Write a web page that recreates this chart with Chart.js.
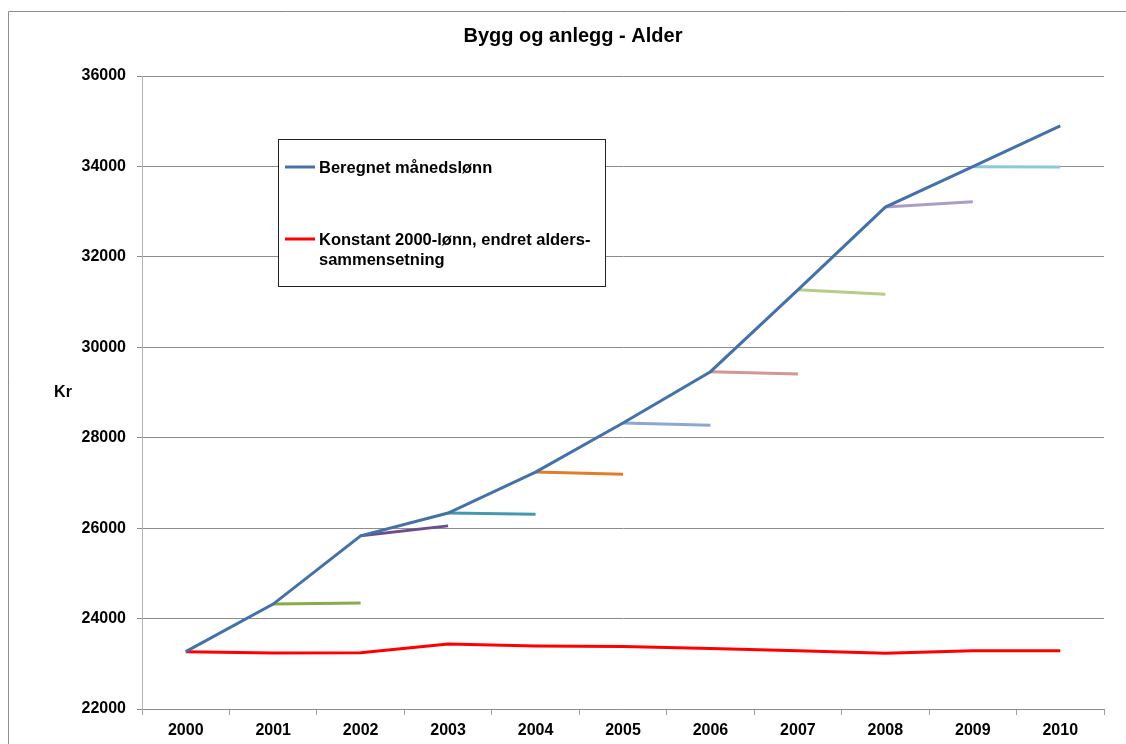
<!DOCTYPE html>
<html>
<head>
<meta charset="utf-8">
<script src="https://cdn.jsdelivr.net/npm/chart.js@4"></script>
<style>
  body { margin: 0; background: #fff; }
</style>
</head>
<body>
<canvas id="alder" width="1126" height="744"></canvas>
<script>
// Bygg og anlegg - alder, lønn 2000-2010

const ctx = document.getElementById('alder');

const years = ['2000', '2001', '2002', '2003', '2004', '2005', '2006', '2007', '2008', '2009', '2010'];

const beregnet = [23270, 24320, 25830, 26335, 27240, 28325, 29460, 31270, 33100, 33995, 34895];

const konstant = [23265, 23240, 23245, 23440, 23395, 23385, 23340, 23290, 23235, 23290, 23290];

// value one year later with that year's age composition (segment from year i+1 to i+2)
const aaretEtter = [24345, 26050, 26305, 27190, 28275, 29410, 31175, 33220, 33985];

const segColors = [
    '#8aab48',
    '#6c4d8e',
    '#4499b1',
    '#e07d2c',
    '#8ea7d2',
    '#d49595',
    '#b5cd87',
    '#ad9cc6',
    '#8ec6dc'
];

const legendLines = [
    ['Beregnet månedslønn'],
    ['Konstant 2000-lønn, endret alders-', 'sammensetning']
];

const yTicks = [22000, 24000, 26000, 28000, 30000, 32000, 34000, 36000];

const FONT = '"Liberation Sans", Arial, sans-serif';

var datasets = [
    {
        label: legendLines[0].join(' '),
        data: beregnet,
        borderColor: '#4571a9',
        borderWidth: 3,
        pointRadius: 0,
        tension: 0
    },
    {
        label: legendLines[1].join(''),
        data: konstant,
        borderColor: '#ff0000',
        borderWidth: 3,
        pointRadius: 0,
        tension: 0
    }
];

for (var i = 0; i < aaretEtter.length; i++) {
    var seg = years.map(function () { return null; });
    seg[i + 1] = beregnet[i + 1];
    seg[i + 2] = aaretEtter[i];
    datasets.push({
        label: years[i + 1],
        data: seg,
        borderColor: segColors[i],
        borderWidth: 3,
        pointRadius: 0,
        spanGaps: false
    });
}

const extras = {
    id: 'extras',
    beforeDraw(chart) {
        const c = chart.ctx;
        c.save();
        c.strokeStyle = '#8c8c8c';
        c.lineWidth = 1;
        c.beginPath();
        c.moveTo(8.5, 744);
        c.lineTo(8.5, 11.5);
        c.lineTo(1126, 11.5);
        c.stroke();
        c.restore();
    },
    afterDraw(chart) {
        const c = chart.ctx;
        c.save();
        c.fillStyle = '#000';
        c.textBaseline = 'middle';
        c.textAlign = 'center';
        c.font = 'bold 20px ' + FONT;
        c.fillText('Bygg og anlegg - Alder', 573, 36);

        c.font = 'bold 16px ' + FONT;
        c.fillText('Kr', 63, 393);

        // legend box
        c.fillStyle = '#fff';
        c.fillRect(278, 139, 327, 147);
        c.strokeStyle = '#222';
        c.lineWidth = 1;
        c.strokeRect(278.5, 139.5, 327, 147);

        const rows = [167, 239];
        c.textAlign = 'left';
        for (var k = 0; k < 2; k++) {
            c.strokeStyle = chart.data.datasets[k].borderColor;
            c.lineWidth = 3;
            c.beginPath();
            c.moveTo(285, rows[k]);
            c.lineTo(315, rows[k]);
            c.stroke();
            c.fillStyle = '#000';
            c.font = 'bold 16.5px ' + FONT;
            legendLines[k].forEach(function (line, n) {
                c.fillText(line, 319, rows[k] + 1 + n * 20);
            });
        }
        c.restore();
    }
};

const graph = new Chart(ctx, {
    type: 'line',
    data: {
        labels: years,
        datasets: datasets
    },
    options: {
        responsive: false,
        animation: false,
        devicePixelRatio: 1,
        layout: {
            padding: { left: 0, right: 22, top: 76, bottom: 0 }
        },
        plugins: {
            legend: { display: false },
            tooltip: { enabled: false },
            title: { display: false }
        },
        scales: {
            x: {
                offset: true,
                grid: {
                    offset: true,
                    drawOnChartArea: false,
                    drawTicks: true,
                    tickLength: 6,
                    tickColor: '#a0a0a0'
                },
                border: { color: '#8c8c8c' },
                ticks: {
                    color: '#000',
                    font: { family: FONT, size: 16, weight: 'bold' },
                    padding: 6,
                    maxRotation: 0
                },
                afterFit(scale) { scale.height = 35; }
            },
            y: {
                min: 22000,
                max: 36000,
                afterBuildTicks(scale) {
                    scale.ticks = yTicks.map(function (v) { return { value: v }; });
                },
                grid: {
                    color: '#8c8c8c',
                    tickLength: 5,
                    tickColor: '#8c8c8c'
                },
                border: { color: '#b4b4b4' },
                ticks: {
                    color: '#000',
                    font: { family: FONT, size: 16, weight: 'bold' },
                    padding: 11,
                    callback: function (v) { return String(v); }
                },
                afterFit(scale) { scale.width = 142; }
            }
        }
    },
    plugins: [extras]
});
</script>
</body>
</html>
